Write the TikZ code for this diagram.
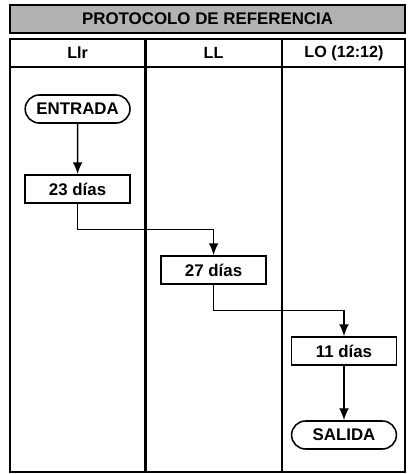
\documentclass[tikz,border=0pt]{standalone}
\usepackage{fontspec}
\setmainfont{Liberation Sans}
\usetikzlibrary{arrows.meta,calc,shapes.misc}
\tikzset{
  etapa/.style={draw, line width=1.1pt, minimum width=2.62cm, minimum height=0.7cm,
    inner sep=0pt, font=\fontsize{12}{14}\selectfont\bfseries},
  terminal/.style={etapa, rounded rectangle},
  flecha/.style={line width=1.2pt, -{Latex[length=8.5pt,width=7pt]}},
  marco/.style={line width=1.5pt}
}
\begin{document}
\begin{tikzpicture}
\def\xa{1.94}
\def\xb{5.34}
\def\xc{8.6}
\useasboundingbox (0,0) rectangle (10.225,11.85);
% cabecera
\draw[fill=black!30, line width=0.8pt] (0.25,11.025) rectangle (10.125,11.725);
\node[font=\fontsize{12}{14}\selectfont\bfseries] (titulo) at (5.19,11.375) {PROTOCOLO DE REFERENCIA};
% tabla
\draw[marco] (0.25,0.05) rectangle (10.125,10.875);
\draw[marco] (0.25,10.175) -- (10.125,10.175);
\draw[marco] (3.6375,0.05) -- (3.6375,10.875);
\draw[marco] (7.05,0.05) -- (7.05,10.875);
\node[font=\fontsize{11.5}{14}\selectfont\bfseries] (llr) at (\xa,10.525) {Llr};
\node[font=\fontsize{11.5}{14}\selectfont\bfseries] (ll)  at (\xb,10.525) {LL};
\node[font=\fontsize{11.5}{14}\selectfont\bfseries] (lo)  at (\xc,10.525) {LO (12:12)};
% etapas
\node[terminal] (entrada) at (\xa,9.125) {ENTRADA};
\node[etapa]    (d23)     at (\xa,7.125) {23 días};
\node[etapa]    (d27)     at (\xb,5.1)   {27 días};
\node[etapa]    (d11)     at (\xc,3.075) {11 días};
\node[terminal] (salida)  at (\xc,0.975) {SALIDA};
% conexiones
\draw[flecha] (entrada) -- (d23);
\draw[flecha] (d23.south) |- ($(d23.south)!.5!(d27.north)$) -| (d27.north);
\draw[flecha] (d27.south) |- ($(d27.south)!.5!(d11.north)$) -| (d11.north);
\draw[flecha] (d11) -- (salida);
\end{tikzpicture}
\end{document}
